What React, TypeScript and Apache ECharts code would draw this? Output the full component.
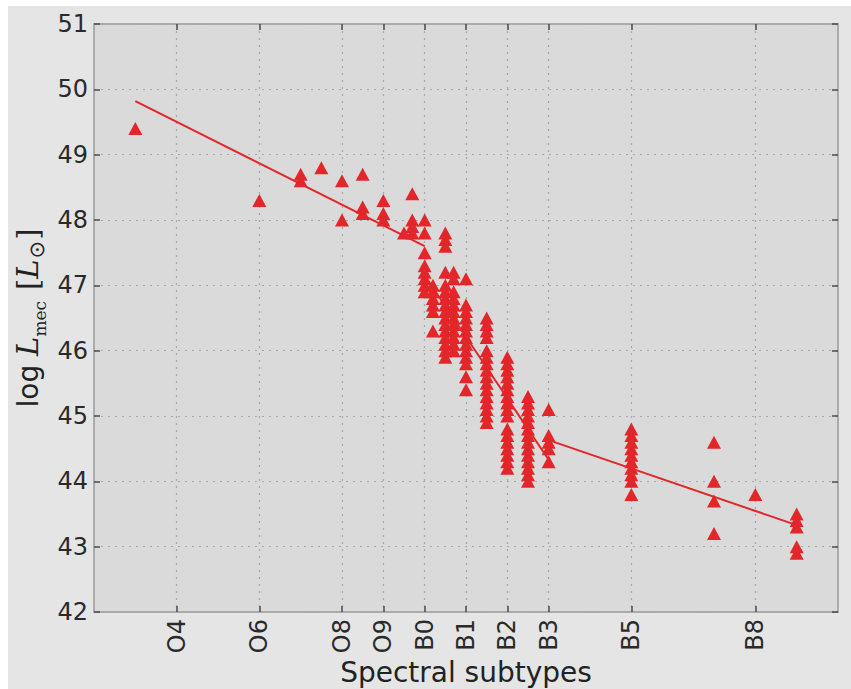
import React, { useEffect, useRef } from 'react';
import * as echarts from 'echarts';

// Spectral subtype ticks (numeric: O4=4 ... B0=10 ... B8=18)
const subtypeTicks = [4, 6, 8, 9, 10, 11, 12, 13, 15, 18];
const subtypeLabels = ['O4', 'O6', 'O8', 'O9', 'B0', 'B1', 'B2', 'B3', 'B5', 'B8'];

// Observed stars: subtype positions and log L_mec values per subtype column
const columnX = [3, 6, 7, 7.5, 8, 8.5, 9, 9.5, 9.7, 10, 10.2, 10.5, 10.7, 11, 11.5, 12, 12.5, 13, 15, 17, 18, 19];
const columnY: number[][] = [
  [49.4],
  [48.3],
  [48.7, 48.6],
  [48.8],
  [48.6, 48.0],
  [48.7, 48.2, 48.1],
  [48.3, 48.1, 48.0],
  [47.8],
  [48.4, 48.0, 47.9, 47.8],
  [48.0, 47.8, 47.5, 47.3, 47.2, 47.1, 47.0, 46.9],
  [47.0, 46.9, 46.8, 46.7, 46.6, 46.3],
  [47.8, 47.7, 47.6, 47.2, 47.0, 46.9, 46.8, 46.7, 46.6, 46.5, 46.4, 46.3, 46.2, 46.1, 46.0, 45.9],
  [47.2, 47.1, 46.9, 46.8, 46.7, 46.6, 46.5, 46.4, 46.3, 46.2, 46.1, 46.0],
  [47.1, 46.7, 46.6, 46.5, 46.4, 46.3, 46.2, 46.1, 46.0, 45.9, 45.8, 45.6, 45.4],
  [46.5, 46.4, 46.3, 46.2, 46.0, 45.9, 45.8, 45.7, 45.6, 45.5, 45.4, 45.3, 45.2, 45.1, 45.0, 44.9],
  [45.9, 45.8, 45.7, 45.6, 45.5, 45.4, 45.3, 45.2, 45.1, 45.0, 44.8, 44.7, 44.6, 44.5, 44.4, 44.3, 44.2],
  [45.3, 45.2, 45.1, 45.0, 44.9, 44.8, 44.7, 44.6, 44.5, 44.4, 44.3, 44.2, 44.1, 44.0],
  [45.1, 44.7, 44.6, 44.5, 44.3],
  [44.8, 44.7, 44.6, 44.5, 44.4, 44.3, 44.2, 44.1, 44.0, 43.8],
  [44.6, 44.0, 43.7, 43.2],
  [43.8],
  [43.5, 43.4, 43.3, 43.0, 42.9],
];

// Piecewise fit lines
const fitEarlyX = [3, 10];
const fitEarlyY = [49.82, 47.6];
const fitMidX = [10, 13];
const fitMidY = [47.15, 44.33];
const fitLateX = [13, 19];
const fitLateY = [44.63, 43.33];

const RED = '#e2262a';

export default function App() {
  const ref = useRef<HTMLDivElement>(null);
  useEffect(() => {
    document.body.style.margin = '0';
    if (!ref.current) return;
    const chart = echarts.init(ref.current, null, { renderer: 'svg' });
    const points: number[][] = [];
    columnX.forEach((x, i) => columnY[i].forEach((y) => points.push([x, y])));
    const labelMap: Record<string, string> = {};
    subtypeTicks.forEach((t, i) => (labelMap[String(t)] = subtypeLabels[i]));
    const gridLine = { show: true, lineStyle: { color: '#a9a9a9', width: 1.2, type: [2, 5] as any } };
    const tickStyle = { color: '#4a4a4a', width: 1.5 };
    const axisLineStyle = { color: '#a8a8a8', width: 1.5 };
    const line = (xs: number[], ys: number[]) => ({
      type: 'line',
      data: xs.map((x, i) => [x, ys[i]]),
      symbol: 'none',
      lineStyle: { color: RED, width: 2 },
      z: 3,
      silent: true,
    });
    chart.setOption({
      animation: false,
      backgroundColor: '#e5e5e5',
      grid: {
        left: 86,
        top: 18,
        right: 13,
        bottom: 77,
        containLabel: false,
        outerBoundsMode: 'none',
        show: true,
        backgroundColor: '#dadada',
        borderColor: '#a8a8a8',
        borderWidth: 1.5,
      },
      xAxis: [
        {
          type: 'value',
          min: 2,
          max: 20,
          position: 'bottom',
          axisLine: { show: true, lineStyle: axisLineStyle },
          axisTick: { show: true, inside: true, length: 6, customValues: subtypeTicks, lineStyle: tickStyle },
          axisLabel: {
            customValues: subtypeTicks,
            formatter: (v: number) => labelMap[String(v)] || '',
            rotate: 90,
            fontSize: 24,
            color: '#2a2a2a',
            fontFamily: 'DejaVu Sans',
            margin: 7,
          },
          splitLine: gridLine,
          name: 'Spectral subtypes',
          nameLocation: 'middle',
          nameMoveOverlap: false,
          nameGap: 44,
          nameTextStyle: { fontSize: 28, color: '#222', fontFamily: 'DejaVu Sans', lineHeight: 32 },
        },
        {
          type: 'value',
          min: 2,
          max: 20,
          position: 'top',
          axisLine: { show: true, lineStyle: axisLineStyle },
          axisTick: { show: true, inside: true, length: 6, customValues: subtypeTicks, lineStyle: tickStyle },
          axisLabel: { show: false },
          splitLine: { show: false },
        },
      ],
      yAxis: [
        {
          type: 'value',
          min: 42,
          max: 51,
          interval: 1,
          position: 'left',
          axisLine: { show: true, lineStyle: axisLineStyle },
          axisTick: { show: true, inside: true, length: 6, lineStyle: tickStyle },
          axisLabel: { fontSize: 24, color: '#2a2a2a', fontFamily: 'DejaVu Sans', margin: 6 },
          splitLine: gridLine,
          name: '{a|log }{b|L}{c|mec}{a| }{s|[}{b|L}{d|⊙}{s|]}',
          nameLocation: 'middle',
          nameRotate: 90,
          nameMoveOverlap: false,
          nameGap: 52,
          nameTextStyle: {
            rich: {
              a: { fontSize: 28, color: '#222', fontFamily: 'DejaVu Sans', verticalAlign: 'bottom' },
              b: { fontSize: 29, color: '#222', fontFamily: 'DejaVu Serif', fontStyle: 'italic', verticalAlign: 'bottom' },
              s: { fontSize: 29, color: '#222', fontFamily: 'DejaVu Serif', verticalAlign: 'bottom' },
              c: { fontSize: 17, color: '#222', fontFamily: 'DejaVu Serif', verticalAlign: 'bottom', padding: [0, 2, -6, 0] },
              d: { fontSize: 21, color: '#222', fontFamily: 'DejaVu Sans', verticalAlign: 'bottom', padding: [0, 1, -5, 1] },
            },
          },
        },
        {
          type: 'value',
          min: 42,
          max: 51,
          interval: 1,
          position: 'right',
          axisLine: { show: true, lineStyle: axisLineStyle },
          axisTick: { show: true, inside: true, length: 6, lineStyle: tickStyle },
          axisLabel: { show: false },
          splitLine: { show: false },
        },
      ],
      series: [
        {
          type: 'scatter',
          data: points,
          symbol: 'triangle',
          symbolSize: [14, 13],
          itemStyle: { color: RED, opacity: 1 },
          z: 2,
          silent: true,
        },
        line(fitEarlyX, fitEarlyY),
        line(fitMidX, fitMidY),
        line(fitLateX, fitLateY),
      ],
    });
    return () => chart.dispose();
  }, []);
  return (
    <div style={{ position: 'relative', width: 851, height: 689, background: '#ffffff', overflow: 'hidden' }}>
      <div ref={ref} style={{ position: 'absolute', left: 8, top: 6, width: 843, height: 683 }} />
    </div>
  );
}
